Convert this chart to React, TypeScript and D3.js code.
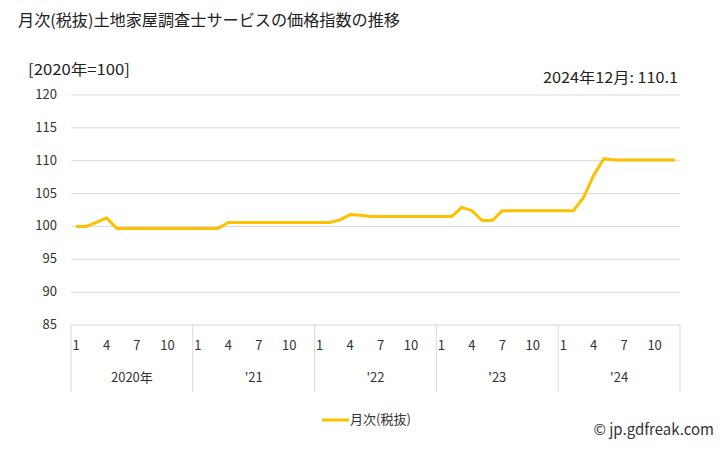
import React from "react";
import * as d3 from "d3";

const years = ["2020年", "'21", "'22", "'23", "'24"];
const monthTicks = [1, 4, 7, 10];
const yTicks = [85, 90, 95, 100, 105, 110, 115, 120];
const values2020 = [100.0, 100.0, 100.6, 101.3, 99.7, 99.7, 99.7, 99.7, 99.7, 99.7, 99.7, 99.7];
const values2021 = [99.7, 99.7, 99.7, 100.6, 100.6, 100.6, 100.6, 100.6, 100.6, 100.6, 100.6, 100.6];
const values2022 = [100.6, 100.6, 101.0, 101.8, 101.7, 101.5, 101.5, 101.5, 101.5, 101.5, 101.5, 101.5];
const values2023 = [101.5, 101.5, 102.9, 102.4, 100.9, 100.9, 102.4, 102.4, 102.4, 102.4, 102.4, 102.4];
const values2024 = [102.4, 102.4, 104.4, 107.8, 110.3, 110.1, 110.1, 110.1, 110.1, 110.1, 110.1, 110.1];
const values = [...values2020, ...values2021, ...values2022, ...values2023, ...values2024];

const FONT = "'Noto Sans CJK JP', 'Noto Sans', sans-serif";
const LINE_COLOR = "#FFC000";

export default function App() {
  const W = 728, H = 450;
  const left = 71, right = 680, top = 95, bottom = 325;
  const x = d3.scaleBand<number>().domain(d3.range(values.length)).range([left, right]);
  const y = d3.scaleLinear().domain([85, 120]).range([bottom, top]);
  const line = d3.line<number>().x((_, i) => (x(i) as number) + x.bandwidth() / 2).y((d) => y(d));
  const yearW = (right - left) / years.length;
  return (
    <svg width={W} height={H} style={{ position: "absolute", left: 0, top: 0, fontFamily: FONT }}>
      <rect width={W} height={H} fill="#fff" />
      <text x={18} y={26} fontSize={16} fill="#222" textLength={382} lengthAdjust="spacingAndGlyphs">月次(税抜)土地家屋調査士サービスの価格指数の推移</text>
      <text x={28} y={75} fontSize={15} fill="#222" textLength={102} lengthAdjust="spacingAndGlyphs">[2020年=100]</text>
      <text x={543} y={83} fontSize={15} fill="#222" textLength={135} lengthAdjust="spacingAndGlyphs">2024年12月: 110.1</text>
      {yTicks.map((t) => (
        <g key={t}>
          <line x1={left} x2={right} y1={y(t)} y2={y(t)} stroke="#d9d9d9" strokeWidth={1} />
          <text x={57} y={y(t) + 4} fontSize={13} fill="#333" textAnchor="end">{t}</text>
        </g>
      ))}
      {d3.range(years.length + 1).map((k) => (
        <line key={k} x1={left + k * yearW} x2={left + k * yearW} y1={bottom} y2={392} stroke="#d9d9d9" strokeWidth={1} />
      ))}
      {years.map((yr, k) => (
        <g key={yr}>
          {monthTicks.map((m) => (
            <text key={m} x={(x(k * 12 + m - 1) as number) + x.bandwidth() / 2} y={350} fontSize={13} fill="#333" textAnchor="middle">{m}</text>
          ))}
          <text x={left + (k + 0.5) * yearW} y={382} fontSize={13} fill="#333" textAnchor="middle">{yr}</text>
        </g>
      ))}
      <path d={line(values) ?? ""} fill="none" stroke={LINE_COLOR} strokeWidth={3} strokeLinejoin="round" />
      <line x1={322} x2={349} y1={420} y2={420} stroke={LINE_COLOR} strokeWidth={3} />
      <text x={350} y={424} fontSize={13} fill="#333">月次(税抜)</text>
      <text x={714} y={435} fontSize={15} fill="#333" textAnchor="end">© jp.gdfreak.com</text>
    </svg>
  );
}
